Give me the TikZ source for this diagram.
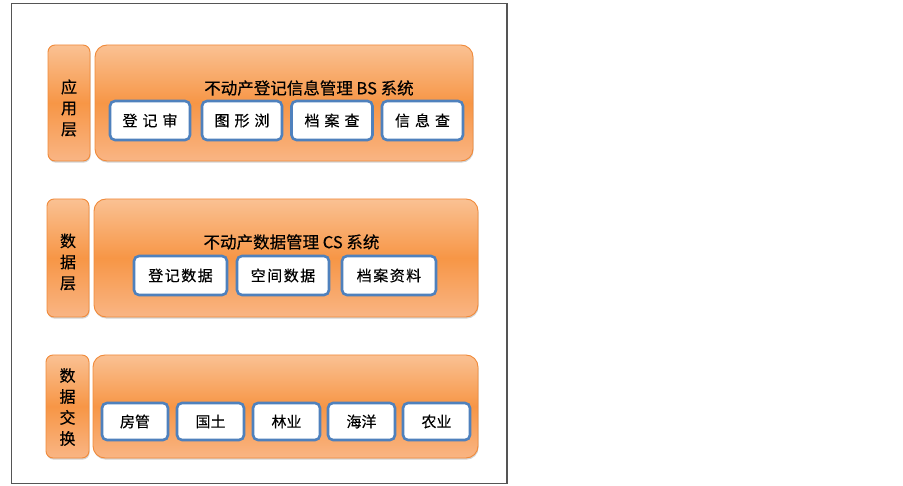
\documentclass[tikz,border=0pt]{standalone}
\usepackage{fontspec}
\setmainfont{Noto Sans CJK SC}[FakeBold=0.4]
\usetikzlibrary{shadows}
\definecolor{orTop}{HTML}{FAC193}
\definecolor{orMid}{HTML}{F79646}
\definecolor{orBot}{HTML}{F9B584}
\definecolor{orLine}{HTML}{F08A3A}
\definecolor{blueLine}{HTML}{4F81BD}
\definecolor{frameGray}{HTML}{555555}
\tikzset{
  layerbox/.style={draw=orLine, line width=0.9pt, rounded corners=12pt, inner sep=0pt,
    top color=orTop, bottom color=orBot, middle color=orMid,
    drop shadow={shadow xshift=0.6pt, shadow yshift=-1.6pt, opacity=0.35}},
  labelbox/.style={layerbox, rounded corners=7pt},
  itembox/.style={draw=blueLine, line width=2.6pt, fill=white, rounded corners=5pt, inner sep=0pt,
    font=\fontsize{15pt}{15pt}\selectfont,
    drop shadow={shadow xshift=0.6pt, shadow yshift=-1.2pt, opacity=0.3}},
  titletext/.style={font=\fontsize{16.5pt}{16.5pt}\selectfont, inner sep=0pt},
  labeltext/.style={font=\fontsize{16pt}{21pt}\selectfont, align=center, inner sep=0pt},
}
\newcommand{\gp}{\hspace{5pt}}
\newcommand{\gq}{\hspace{1.5pt}}
\begin{document}
\begin{tikzpicture}[x=1pt,y=-1pt]
\useasboundingbox (0,0) rectangle (903,486);
\draw[frameGray, line width=1.3pt] (11.5,3.5) rectangle (507,483.5);
% layer 1
\node[labelbox, minimum width=42pt, minimum height=116pt] (l1) at (69,103) {};
\node[layerbox, minimum width=378pt, minimum height=116pt] (m1) at (284,103) {};
\node[labeltext] (l1t) at (69,108) {应\\用\\层};
\node[titletext] (t1) at (309,88) {不动产登记信息管理 BS 系统};
\node[itembox, minimum width=80pt, minimum height=39pt] (a1) at (150,120.5) {登\gp 记\gp 审};
\node[itembox, minimum width=80pt, minimum height=39pt] (a2) at (242,120.5) {图\gp 形\gp 浏};
\node[itembox, minimum width=81pt, minimum height=39pt] (a3) at (332,120.5) {档\gp 案\gp 查};
\node[itembox, minimum width=81pt, minimum height=39pt] (a4) at (422.5,120.5) {信\gp 息\gp 查};
% layer 2
\node[labelbox, minimum width=42pt, minimum height=118pt] (l2) at (68,258) {};
\node[layerbox, minimum width=384pt, minimum height=118pt] (m2) at (286,258) {};
\node[labeltext] (l2t) at (68,262) {数\\据\\层};
\node[titletext] (t2) at (291.5,242) {不动产数据管理 CS 系统};
\node[itembox, minimum width=93pt, minimum height=39pt] (b1) at (180.5,275.5) {登\gq 记\gq 数\gq 据};
\node[itembox, minimum width=92pt, minimum height=39pt] (b2) at (283,275.5) {空\gq 间\gq 数\gq 据};
\node[itembox, minimum width=94pt, minimum height=39pt] (b3) at (389,275.5) {档\gq 案\gq 资\gq 料};
% layer 3
\node[labelbox, minimum width=43pt, minimum height=103pt] (l3) at (67.5,406.5) {};
\node[layerbox, minimum width=385pt, minimum height=103pt] (m3) at (285.5,406.5) {};
\node[labeltext] (l3t) at (67.5,407) {数\\据\\交\\换};
\node[itembox, minimum width=66pt, minimum height=37pt] (c1) at (135,421.5) {房管};
\node[itembox, minimum width=67pt, minimum height=37pt] (c2) at (210.5,421.5) {国土};
\node[itembox, minimum width=67pt, minimum height=37pt] (c3) at (286.5,421.5) {林业};
\node[itembox, minimum width=67pt, minimum height=37pt] (c4) at (361.5,421.5) {海洋};
\node[itembox, minimum width=67pt, minimum height=37pt] (c5) at (436.5,421.5) {农业};
\end{tikzpicture}
\end{document}
